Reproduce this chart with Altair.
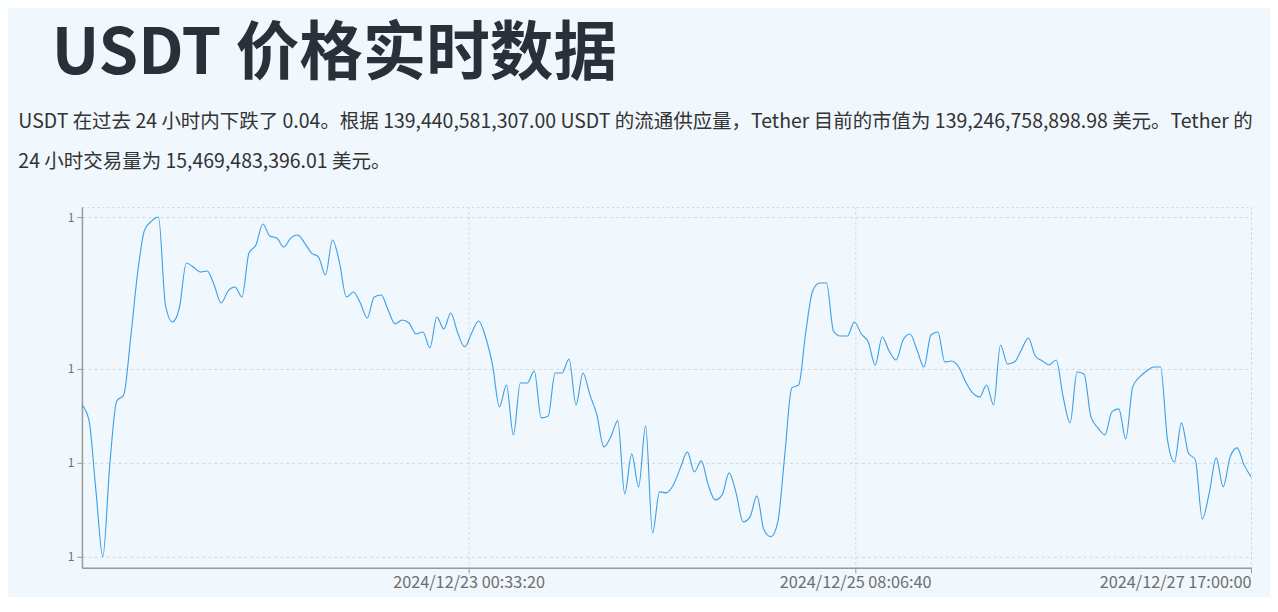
import altair as alt
import pandas as pd

# ---- data (hourly USDT price) ----
start_time = "2024-12-20 17:00:00"
prices = [
    0.99895, 0.99880, 0.99810, 0.99743, 0.99835, 0.99899, 0.99905, 0.99962, 1.00027, 1.00070,
    1.00079, 1.00083, 0.99995, 0.99978, 0.99992, 1.00037, 1.00033, 1.00028, 1.00029, 1.00015,
    0.99997, 1.00009, 1.00013, 1.00003, 1.00047, 1.00055, 1.00076, 1.00064, 1.00062, 1.00053,
    1.00062, 1.00065, 1.00057, 1.00047, 1.00043, 1.00025, 1.00060, 1.00038, 1.00003, 1.00008,
    0.99997, 0.99982, 1.00003, 1.00005, 0.99990, 0.99976, 0.99980, 0.99977, 0.99966, 0.99968,
    0.99952, 0.99983, 0.99971, 0.99987, 0.99967, 0.99953, 0.99967, 0.99979, 0.99963, 0.99935,
    0.99893, 0.99915, 0.99865, 0.99917, 0.99917, 0.99929, 0.99882, 0.99884, 0.99927, 0.99927,
    0.99941, 0.99895, 0.99927, 0.99905, 0.99885, 0.99853, 0.99863, 0.99879, 0.99806, 0.99846,
    0.99813, 0.99874, 0.99767, 0.99808, 0.99807, 0.99815, 0.99832, 0.99848, 0.99828, 0.99839,
    0.99815, 0.99800, 0.99805, 0.99827, 0.99807, 0.99778, 0.99783, 0.99804, 0.99770, 0.99763,
    0.99778, 0.99845, 0.99912, 0.99915, 0.99967, 1.00009, 1.00017, 1.00017, 0.99969, 0.99964,
    0.99964, 0.99978, 0.99966, 0.99958, 0.99935, 0.99963, 0.99949, 0.99940, 0.99960, 0.99966,
    0.99950, 0.99933, 0.99965, 0.99968, 0.99938, 0.99939, 0.99933, 0.99918, 0.99907, 0.99903,
    0.99915, 0.99895, 0.99955, 0.99936, 0.99938, 0.99950, 0.99962, 0.99944, 0.99939, 0.99935,
    0.99940, 0.99903, 0.99877, 0.99928, 0.99926, 0.99883, 0.99872, 0.99865, 0.99888, 0.99891,
    0.99861, 0.99913, 0.99923, 0.99929, 0.99933, 0.99933, 0.99860, 0.99838, 0.99877, 0.99847,
    0.99840, 0.99781, 0.99807, 0.99842, 0.99813, 0.99843, 0.99852, 0.99835, 0.99823,
]
x_tick_times = ["2024-12-23 00:33:20", "2024-12-25 08:06:40", "2024-12-27 17:00:00"]
y_tick_values = [0.99743, 0.99837, 0.99931, 1.00083]
y_domain = [0.99732, 1.00093]

title_text = "USDT 价格实时数据"
subtitle_lines = [
    "USDT 在过去 24 小时内下跌了 0.04。根据 139,440,581,307.00 USDT 的流通供应量，Tether 目前的市值为 139,246,758,898.98 美元。Tether 的",
    "24 小时交易量为 15,469,483,396.01 美元。",
]

# ---- build table ----
times = pd.date_range(start_time, periods=len(prices), freq="h", tz="UTC")
df = pd.DataFrame({"t": times.strftime("%Y-%m-%dT%H:%M:%SZ"), "price": prices})


def ms(ts):
    return int(pd.Timestamp(ts, tz="UTC").value // 10**6)


x_ticks = [ms(s) for s in x_tick_times]
x_domain = [int(times[0].value // 10**6), int(times[-1].value // 10**6)]

FONT = "Noto Sans CJK SC"

line = (
    alt.Chart(df)
    .mark_line(color="#3c9ee5", strokeWidth=1.1, interpolate="monotone")
    .encode(
        x=alt.X(
            "t:T",
            scale=alt.Scale(type="utc", domain=x_domain, nice=False),
            axis=alt.Axis(
                values=x_ticks,
                labelExpr="utcFormat(datum.value, '%Y/%m/%d %H:%M:%S')",
                title=None,
                grid=True,
                gridDash=[2, 3],
                gridColor="#cfd4da",
                domainColor="#9a9a9a",
                domainWidth=1.5,
                tickColor="#9a9a9a",
                tickSize=5,
                labelColor="#6e6e6e",
                labelFontSize=16.3,
                labelFont=FONT,
                labelFlush=True,
                labelPadding=2,
            ),
        ),
        y=alt.Y(
            "price:Q",
            scale=alt.Scale(domain=y_domain, nice=False, zero=False),
            axis=alt.Axis(
                values=y_tick_values,
                format=".0f",
                title=None,
                grid=True,
                gridDash=[3, 3],
                gridColor="#d3d7dc",
                domainColor="#9a9a9a",
                domainWidth=1.5,
                tickColor="#9a9a9a",
                tickSize=5,
                labelColor="#6e6e6e",
                labelFontSize=12,
                labelFont=FONT,
                labelPadding=3,
            ),
        ),
    )
    .properties(
        width=1170,
        height=361,
        title=alt.TitleParams(
            text=subtitle_lines,
            anchor="start",
            dx=-49,
            fontSize=19.5,
            fontWeight="normal",
            font=FONT,
            lineHeight=40,
            color="#333333",
            offset=35,
        ),
    )
)

chart = (
    alt.vconcat(
        line,
        title=alt.TitleParams(
            text=title_text,
            anchor="start",
            dx=34,
            fontSize=63.6,
            fontWeight="bold",
            font=FONT,
            color="#2a3039",
            offset=24,
        ),
    )
    .properties(padding={"left": 9, "top": 14, "right": 15, "bottom": 5})
    .configure(background="#f0f7fd")
    .configure_view(stroke="#cfd4da", strokeDash=[2, 3], strokeWidth=1)
)

chart.save("out.html", embed_options={"renderer": "svg", "actions": False})
